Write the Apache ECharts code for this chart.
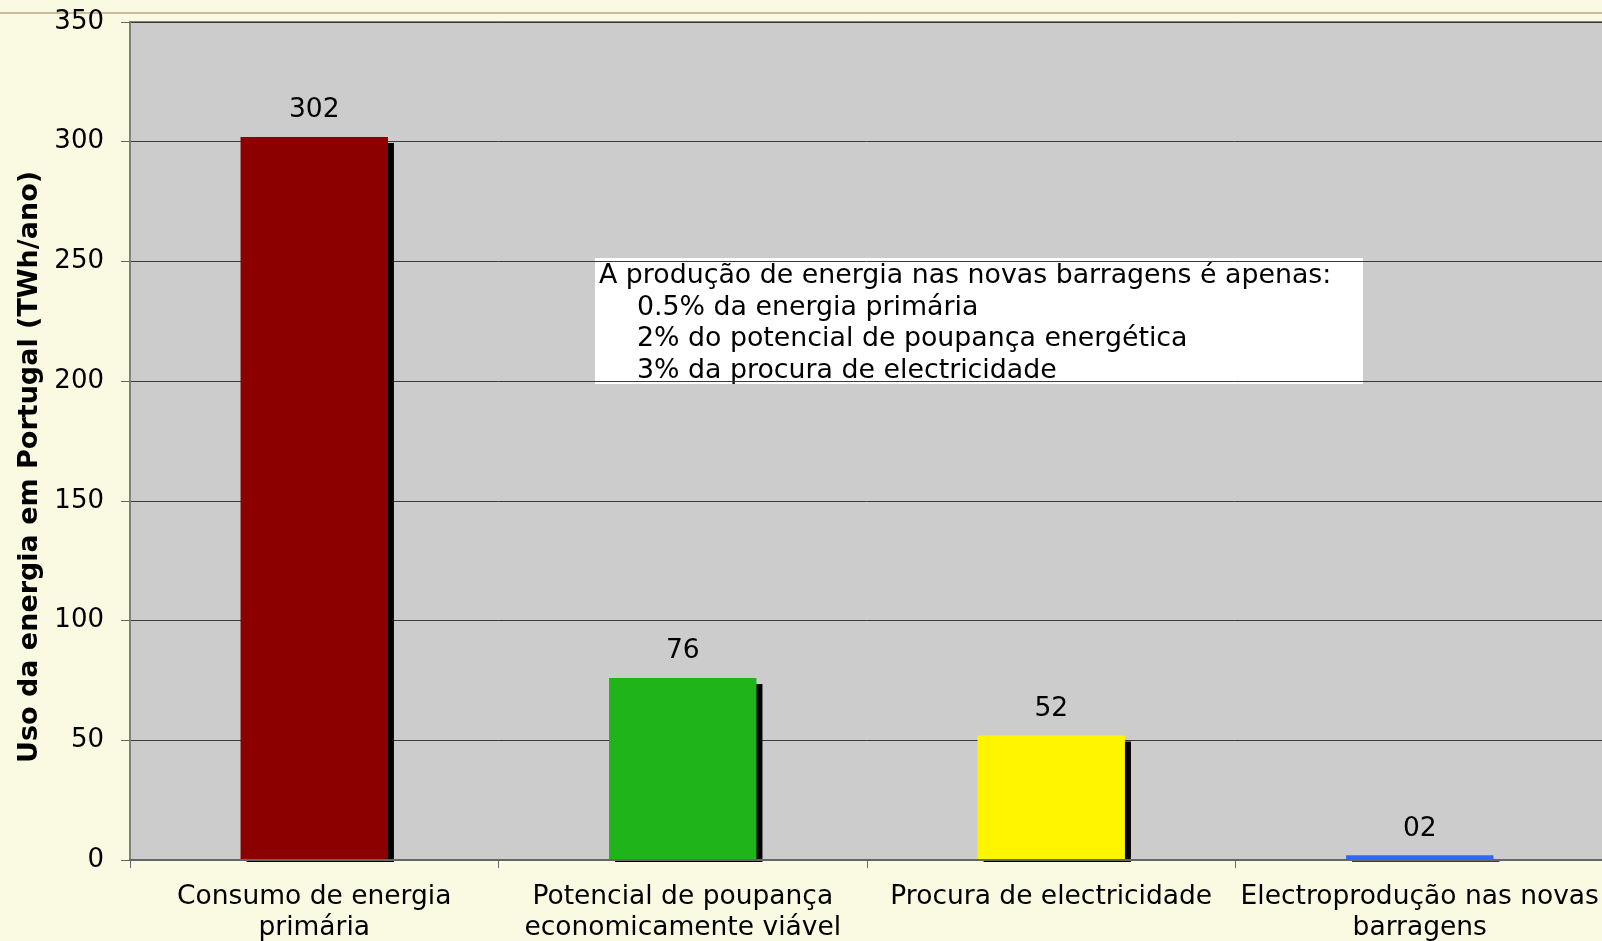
<!DOCTYPE html>
<html>
<head>
<meta charset="utf-8">
<script src="https://cdn.jsdelivr.net/npm/echarts@6/dist/echarts.min.js"></script>
<style>
  html, body { margin: 0; padding: 0; background: #fafae3; }
  #chart { width: 1602px; height: 941px; }
</style>
</head>
<body>
<div id="chart"></div>
<script>
// categories and values
const categories = ['Consumo de energia\nprimária', 'Potencial de poupança\neconomicamente viável', 'Procura de electricidade', 'Electroprodução nas novas\nbarragens'];
const values = [302, 76, 52, 2];
const barColors = ['#8c0000', '#1fb51a', '#fff500', '#3366ff'];
const yTicks = [0, 50, 100, 150, 200, 250, 300, 350];
const noteLines = [
  'A produção de energia nas novas barragens é apenas:',
  '0.5% da energia primária',
  '2% do potencial de poupança energética',
  '3% da procura de electricidade'
];

const FONT = 'DejaVu Sans';
const BG = '#fafae3';
const chart = echarts.init(document.getElementById('chart'));

// formats like the original sheet ("00")
const fmt = v => (v < 10 ? '0' + v : '' + v);

let option = {
  backgroundColor: BG,
  textStyle: { fontFamily: FONT },
  grid: {
    left: 130,
    top: 22,
    right: -2,
    bottom: 81,
    outerBoundsMode: 'none',
    show: true,
    backgroundColor: '#cccccc',
    borderColor: '#808080',
    borderWidth: 2
  },
  xAxis: {
    type: 'category',
    z: 10,
    data: categories,
    axisLine: { show: true, lineStyle: { color: '#666', width: 2 } },
    axisTick: { show: true, length: 8, lineStyle: { color: '#666' } },
    axisLabel: {
      color: '#000',
      fontSize: 26.5,
      fontFamily: FONT,
      lineHeight: 31,
      margin: 22,
      interval: 0
    }
  },
  yAxis: {
    type: 'value',
    min: yTicks[0],
    max: yTicks[yTicks.length - 1],
    interval: 50,
    name: 'Uso da energia em Portugal (TWh/ano)',
    nameLocation: 'middle',
    nameGap: 86,
    nameRotate: 90,
    nameTextStyle: {
      color: '#000',
      fontSize: 27,
      fontWeight: 'bold',
      fontFamily: FONT,
      padding: [0, 52, 0, 0]
    },
    axisLine: { show: true, lineStyle: { color: '#808080', width: 2 } },
    axisTick: { show: true, length: 9, lineStyle: { color: '#666' } },
    axisLabel: { color: '#000', fontSize: 26, fontFamily: FONT, margin: 26 },
    splitLine: { show: true, lineStyle: { color: '#3a3a3a', width: 1 } }
  },
  series: [{
    type: 'bar',
    barWidth: '40%',
    data: values.map((v, i) => ({ value: v, itemStyle: { color: barColors[i] } })),
    itemStyle: {
      shadowColor: '#000',
      shadowBlur: 0,
      shadowOffsetX: 6,
      shadowOffsetY: 6
    },
    label: {
      show: true,
      position: 'top',
      distance: 13,
      color: '#000',
      fontSize: 26.5,
      fontFamily: FONT,
      formatter: p => fmt(p.value)
    }
  }],
  graphic: [{
    type: 'group',
    left: 595,
    top: 258,
    children: [
      {
        type: 'rect',
        shape: { x: 0, y: 0, width: 768, height: 126 },
        style: { fill: '#ffffff' }
      }
    ].concat(noteLines.map((t, i) => ({
      type: 'text',
      x: i === 0 ? 4 : 42,
      y: 18 + i * 31.7,
      style: { text: t, fill: '#000', font: '26.8px "DejaVu Sans"', verticalAlign: 'middle' }
    })))
  }, {
    // hides the part of the bar shadows that falls below the axis
    type: 'rect',
    z: 3,
    shape: { x: 131, y: 862, width: 1471, height: 79 },
    style: { fill: BG },
    silent: true
  }, {
    type: 'rect',
    shape: { x: 0, y: 12, width: 1602, height: 2 },
    style: { fill: '#c9bd9f' },
    silent: true
  }]
};

chart.setOption(option);
</script>
</body>
</html>
